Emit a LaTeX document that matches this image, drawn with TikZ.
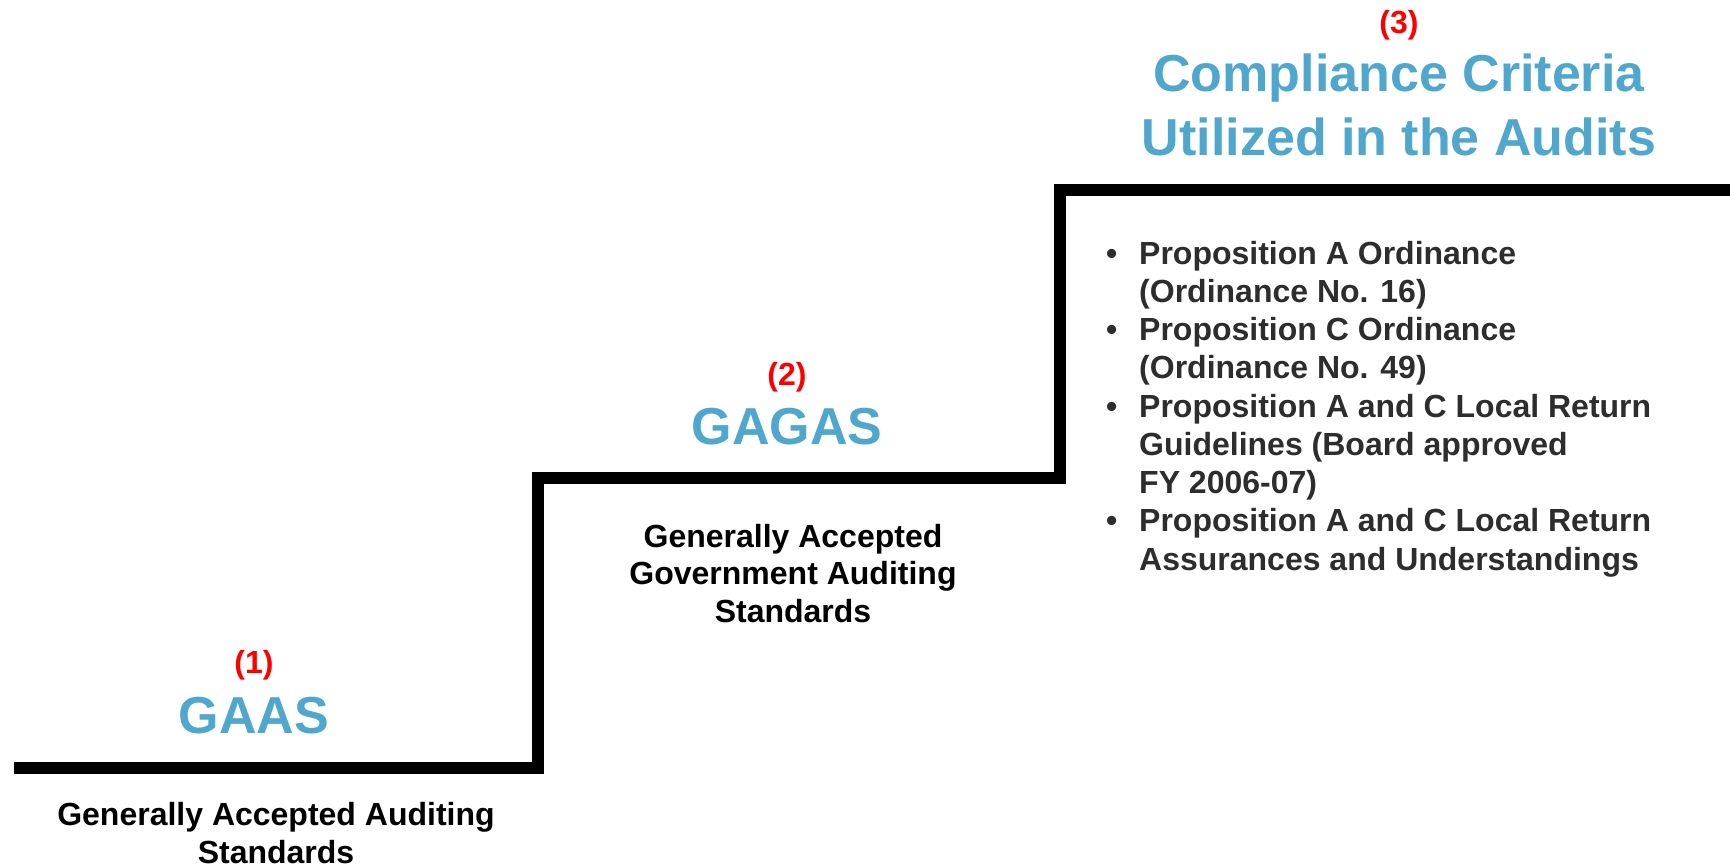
\documentclass[tikz,border=0pt]{standalone}
\usepackage{fontspec}
\setmainfont{Liberation Sans}
\definecolor{titleblue}{RGB}{79,167,206}
\definecolor{numred}{RGB}{255,0,0}
\definecolor{listgray}{RGB}{45,45,45}
\begin{document}
\begin{tikzpicture}[x=1pt,y=-1pt,
  numlbl/.style={anchor=base, inner sep=0pt, text=numred, font=\bfseries\fontsize{32}{38}\selectfont},
  titlelbl/.style={anchor=base, inner sep=0pt, text=titleblue, font=\bfseries\fontsize{52}{64}\selectfont},
  desclbl/.style={anchor=base, inner sep=0pt, text=black, font=\bfseries\fontsize{32}{37.5}\selectfont},
  listlbl/.style={anchor=base west, inner sep=0pt, text=listgray, font=\bfseries\fontsize{32}{38.25}\selectfont},
  stair/.style={line width=12pt, line join=miter, draw=black}]
\useasboundingbox (0,0) rectangle (1730,867);
% staircase
\coordinate (s0) at (14,768);
\coordinate (s1) at (538,768);
\coordinate (s2) at (538,478);
\coordinate (s3) at (1060,478);
\coordinate (s4) at (1060,189.5);
\coordinate (s5) at (1730,189.5);
\draw[stair] (s0) -- (s1) -- (s2) -- (s3) -- (s4) -- (s5);
% step 1
\node[numlbl] (n1) at (254,673) {(1)};
\node[titlelbl] (t1) at (254,733) {GAAS};
\node[desclbl, anchor=south, align=center] (d1) at (276,864) {Generally Accepted Auditing\\Standards};
% step 2
\node[numlbl] (n2) at (787,385) {(2)};
\node[titlelbl] (t2) at (787,444) {GAGAS};
\node[desclbl] (d2) at (793,547) {\begin{tabular}[t]{@{}c@{}}Generally Accepted\\Government Auditing\\Standards\end{tabular}};
% step 3
\node[numlbl] (n3) at (1399,34) {(3)};
\node[titlelbl] (t3) at (1399,92) {\begin{tabular}[t]{@{}c@{}}Compliance Criteria\\Utilized in the Audits\end{tabular}};
\node[listlbl] (l3) at (1106,264) {\begin{tabular}[t]{@{}l@{}}
\makebox[33pt][l]{•}Proposition A Ordinance\\
\hspace*{33pt}(Ordinance No. 16)\\
\makebox[33pt][l]{•}Proposition C Ordinance\\
\hspace*{33pt}(Ordinance No. 49)\\
\makebox[33pt][l]{•}Proposition A and C Local Return\\
\hspace*{33pt}Guidelines (Board approved\\
\hspace*{33pt}FY 2006-07)\\
\makebox[33pt][l]{•}Proposition A and C Local Return\\
\hspace*{33pt}Assurances and Understandings
\end{tabular}};
\end{tikzpicture}
\end{document}
